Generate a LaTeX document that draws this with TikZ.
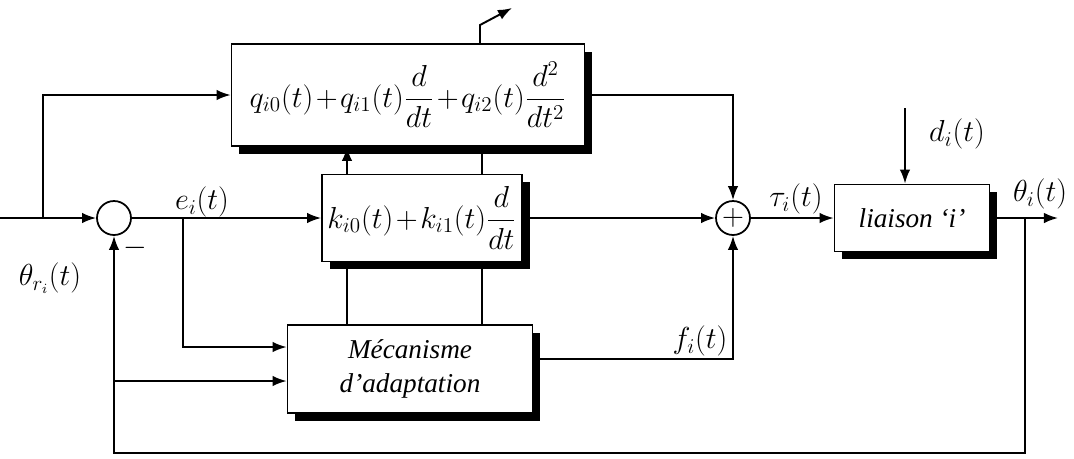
\documentclass[tikz,border=0pt]{standalone}
\usepackage{fontspec}
\setmainfont{Liberation Serif}
\usetikzlibrary{arrows.meta,shadows}
\tikzset{
  blk/.style={draw,line width=1pt,fill=white,inner sep=0pt,align=center,
    drop shadow={shadow xshift=4.5pt,shadow yshift=-4.5pt,fill=black,opacity=1}},
  mathblk/.style={blk,font=\fontsize{18.5}{22}\selectfont},
  sumnode/.style={draw,circle,line width=1pt,fill=white,minimum size=0.68cm,inner sep=0pt},
  sig/.style={line width=1.1pt,-{Latex[length=8pt,width=6pt]}},
  wire/.style={line width=1.1pt},
  lab/.style={inner sep=1pt,font=\fontsize{16.5}{20}\selectfont},
}
\newcommand{\tightplus}{\mskip1.5mu+\mskip1.5mu}
\begin{document}
\begin{tikzpicture}[x=0.02cm,y=-0.02cm,font=\fontsize{15}{19}\selectfont]
\useasboundingbox (0,0) rectangle (1074,458);
% blocs
\node[mathblk,minimum width=7.06cm,minimum height=2.04cm] (qbox) at (408,95) {$\displaystyle q_{i0}(t){\tightplus}q_{i1}(t)\frac{d}{dt}{\tightplus}q_{i2}(t)\frac{d^2}{dt^2}$};
\node[mathblk,minimum width=4cm,minimum height=1.74cm] (kbox) at (422,218) {$\displaystyle k_{i0}(t){\tightplus}k_{i1}(t)\frac{d}{dt}$};
\node[blk,minimum width=4.9cm,minimum height=1.76cm,font=\fontsize{15.5}{19.5}\selectfont\itshape] (mec) at (410,369) {Mécanisme\\d’adaptation};
\node[blk,minimum width=3.1cm,minimum height=1.34cm,font=\fontsize{15.5}{19}\selectfont\itshape] (liaison) at (912,218) {liaison ‘i’};
\node[sumnode] (s1) at (114,218) {};
\node[sumnode,font=\fontsize{17}{20}\selectfont] (s2) at (733,218) {$+$};
% points
\coordinate (in) at (0,218);
\coordinate (br) at (43,218);
\coordinate (eb) at (183,218);
\coordinate (fb) at (1025,218);
\coordinate (out) at (1058,218);
\coordinate (fbc) at (114,453);
\coordinate (fbm) at (114,381);
\coordinate (dtop) at (905,108);
\coordinate (adj) at (480,25);
\coordinate (adjtip) at (512,8);
\coordinate (ka) at (347,0);
\coordinate (kb) at (482,0);
% liaisons
\draw[sig] (in) -- (s1.west);
\draw[sig] (br) |- (qbox.west);
\draw[sig] (s1) -- (kbox);
\draw[sig] (eb) |- ([yshift=0.44cm]mec.west);
\draw[sig] (fbm) -- (fbm -| mec.west);
\draw[sig] (kbox) -- (s2);
\draw[sig] (qbox.east) -| (s2.north);
\draw[sig] ([yshift=0.2cm]mec.east) -| (s2.south);
\draw[sig] (s2) -- (liaison);
\draw[sig] (dtop) -- (dtop |- liaison.north);
\draw[sig] (liaison) -- (out);
\draw[sig] (fb) |- (fbc) -- (s1.south);
\draw[sig] (ka |- kbox.north) -- (ka |- qbox.south);
\draw[wire] (kb |- kbox.north) -- (kb |- qbox.south);
\draw[wire] (ka |- mec.north) -- (ka |- kbox.south);
\draw[wire] (kb |- mec.north) -- (kb |- kbox.south);
\draw[sig] (adj |- qbox.north) -- (adj) -- (adjtip);
% etiquettes
\node[lab] (elab) at (202,202) {$e_i(t)$};
\node[lab] (thr) at (50,278) {$\theta_{r_i}(t)$};
\node[lab] (minus) at (135,248) {$-$};
\node[lab] (tau) at (796,199) {$\tau_i(t)$};
\node[lab] (thi) at (1040,194) {$\theta_i(t)$};
\node[lab] (dlab) at (957,134) {$d_i(t)$};
\node[lab] (flab) at (700,341) {$f_i(t)$};
\end{tikzpicture}
\end{document}
